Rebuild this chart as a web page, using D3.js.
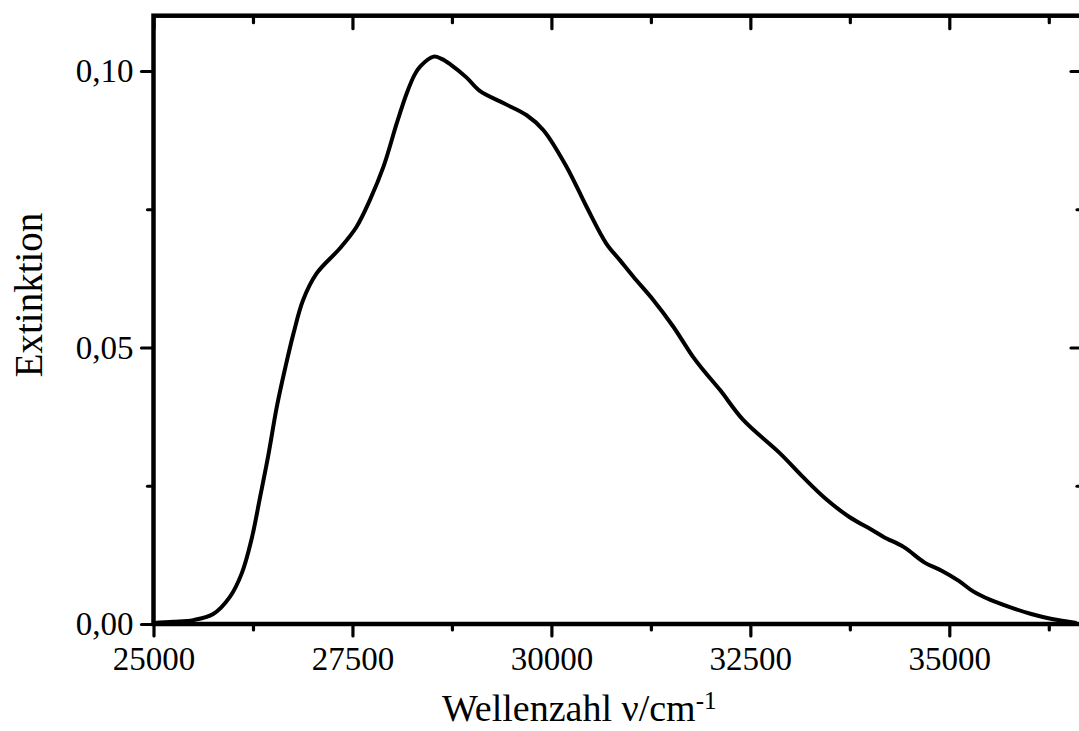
<!DOCTYPE html>
<html>
<head>
<meta charset="utf-8">
<script src="https://cdn.jsdelivr.net/npm/d3@7"></script>
<style>
  html, body { margin: 0; padding: 0; background: #fff; }
  svg { display: block; }
  text { font-family: "Liberation Serif", "Times New Roman", serif; fill: #000; }
</style>
</head>
<body>
<div class="container"></div>
<script>
// spectrum
var wavenumber = [25000, 25250, 25500, 25750, 25960, 26110, 26230, 26340, 26440, 26550,
    26660, 26760, 26880, 27050, 27340, 27550, 27720, 27890, 28060, 28180,
    28280, 28350, 28520, 28620, 28730, 28935, 29100, 29395, 29690, 29900,
    30190, 30440, 30690, 30860, 31030, 31280, 31530, 31780, 31910, 32120,
    32410, 32870, 33160, 33450, 33740, 34040, 34180, 34430, 34690, 34910,
    35120, 35300, 35510, 35770, 36030, 36290, 36600];
var extinction = [0.0002, 0.0004, 0.0007, 0.0018, 0.0049, 0.0092, 0.0152, 0.0230, 0.0303, 0.0393,
    0.0466, 0.0526, 0.0586, 0.0634, 0.0679, 0.0718, 0.0767, 0.0827, 0.0907, 0.0959,
    0.0993, 0.1008, 0.1026, 0.1022, 0.1012, 0.0988, 0.0964, 0.0942, 0.0920, 0.0893,
    0.0827, 0.0755, 0.0688, 0.0658, 0.0628, 0.0586, 0.0538, 0.0483, 0.0459, 0.0423,
    0.0369, 0.0309, 0.0266, 0.0226, 0.0194, 0.0169, 0.0157, 0.0139, 0.0111, 0.0096,
    0.0078, 0.0059, 0.0044, 0.0030, 0.0018, 0.0009, 0.0002];

var xMajor = [25000, 27500, 30000, 32500, 35000];
var xMinor = [26250, 28750, 31250, 33750, 36250];
var yMajor = [0, 0.05, 0.10];
var yMinor = [0.025, 0.075];
var xDomain = [25000, 36680];
var yDomain = [0, 0.11];

var WIDTH = 1079, HEIGHT = 731;
var LEFT = 153.5, RIGHT = 1083, TOP = 15.7, BOTTOM = 624;
var SERIF = '"Liberation Serif", "Times New Roman", serif';

var de = d3.formatLocale({decimal: ",", thousands: ".", grouping: [3], currency: ["", " €"]});
var yFmt = de.format(".2f");

var svg = d3.select('.container').append('svg')
    .attr('width', WIDTH)
    .attr('height', HEIGHT);

var xScale = d3.scaleLinear().domain(xDomain).range([LEFT, RIGHT]);
var yScale = d3.scaleLinear().domain(yDomain).range([BOTTOM, TOP]);

var styleAxis = function (g) {
    g.attr('font-family', null).attr('font-size', null);
    g.select('.domain').remove();
    g.selectAll('.tick line').attr('stroke', '#000').attr('stroke-width', 3.2).attr('stroke-linecap', 'round');
    g.selectAll('.tick text').style('font-family', SERIF).style('font-size', '33px');
};

// minor ticks
svg.append('g').attr('transform', 'translate(0,' + BOTTOM + ')')
    .call(d3.axisBottom(xScale).tickValues(xMinor).tickSize(6).tickFormat(''))
    .call(styleAxis);
svg.append('g').attr('transform', 'translate(0,' + TOP + ')')
    .call(d3.axisBottom(xScale).tickValues(xMinor).tickSize(7).tickFormat(''))
    .call(styleAxis);
svg.append('g').attr('transform', 'translate(' + LEFT + ',0)')
    .call(d3.axisLeft(yScale).tickValues(yMinor).tickSize(6).tickFormat(''))
    .call(styleAxis);
svg.append('g').attr('transform', 'translate(' + RIGHT + ',0)')
    .call(d3.axisLeft(yScale).tickValues(yMinor).tickSize(6).tickFormat(''))
    .call(styleAxis);

// major ticks with labels
svg.append('g').attr('transform', 'translate(0,' + BOTTOM + ')')
    .call(d3.axisBottom(xScale).tickValues(xMajor).tickSize(12).tickPadding(11).tickFormat(d3.format('d')))
    .call(styleAxis);
svg.append('g').attr('transform', 'translate(0,' + TOP + ')')
    .call(d3.axisBottom(xScale).tickValues(xMajor).tickSize(13).tickFormat(''))
    .call(styleAxis);
svg.append('g').attr('transform', 'translate(' + LEFT + ',0)')
    .call(d3.axisLeft(yScale).tickValues(yMajor).tickSize(12).tickPadding(8).tickFormat(yFmt))
    .call(styleAxis);
svg.append('g').attr('transform', 'translate(' + RIGHT + ',0)')
    .call(d3.axisLeft(yScale).tickValues(yMajor).tickSize(12).tickFormat(''))
    .call(styleAxis);

// frame
svg.append('rect')
    .attr('x', LEFT).attr('y', TOP)
    .attr('width', RIGHT - LEFT).attr('height', BOTTOM - TOP)
    .attr('fill', 'none').attr('stroke', '#000').attr('stroke-width', 4.5);

// spectrum
var points = wavenumber.map(function (d, i) { return [d, extinction[i]]; });
var line = d3.line()
    .x(function (d) { return xScale(d[0]); })
    .y(function (d) { return yScale(d[1]); })
    .curve(d3.curveCatmullRom.alpha(0.5));
svg.append('path')
    .datum(points)
    .attr('d', line)
    .attr('fill', 'none')
    .attr('stroke', '#000')
    .attr('stroke-width', 4)
    .attr('stroke-linejoin', 'round');

// axis titles
var xTitle = svg.append('text')
    .attr('x', 442)
    .attr('y', 721)
    .style('font-family', SERIF)
    .style('font-size', '38px');
xTitle.append('tspan').text('Wellenzahl ν/cm');
xTitle.append('tspan').attr('dy', -12).style('font-size', '25px').text('-1');

svg.append('text')
    .attr('transform', 'translate(42,295) rotate(-90)')
    .attr('text-anchor', 'middle')
    .style('font-family', SERIF)
    .style('font-size', '39px')
    .text('Extinktion');
</script>
</body>
</html>
